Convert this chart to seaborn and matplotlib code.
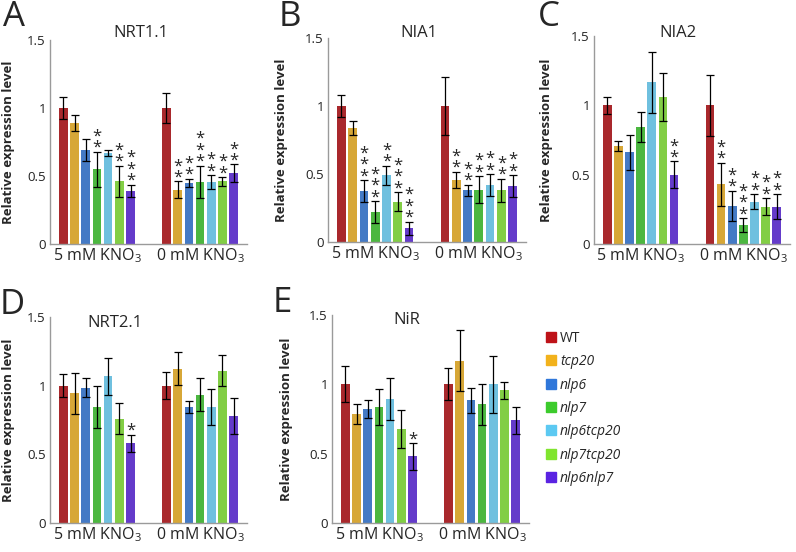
import numpy as np
import pandas as pd
import matplotlib
matplotlib.use("Agg")
import matplotlib.pyplot as plt
from matplotlib.lines import Line2D
import seaborn as sns

# Genotypes, conditions and colours
genotypes = ["WT", "tcp20", "nlp6", "nlp7", "nlp6tcp20", "nlp7tcp20", "nlp6nlp7"]
conditions = ["5 mM KNO$_3$", "0 mM KNO$_3$"]
bar_colors = ["#BE1218", "#F2B21C", "#2F77DA", "#3CCB2C", "#5CC9F2", "#80E52E", "#5A23E2"]

# NRT1.1
nrt11_5mm = [1.00, 0.89, 0.69, 0.55, 0.67, 0.46, 0.39]
nrt11_5mm_err = [0.08, 0.06, 0.08, 0.13, 0.02, 0.115, 0.045]
nrt11_0mm = [1.00, 0.40, 0.45, 0.455, 0.455, 0.46, 0.52]
nrt11_0mm_err = [0.11, 0.06, 0.03, 0.12, 0.05, 0.03, 0.065]
nrt11_stars_5mm = [0, 0, 0, 2, 0, 2, 3]
nrt11_stars_0mm = [0, 2, 2, 3, 2, 2, 2]

# NIA1
nia1_5mm = [1.00, 0.84, 0.375, 0.22, 0.49, 0.295, 0.10]
nia1_5mm_err = [0.08, 0.05, 0.08, 0.08, 0.07, 0.07, 0.05]
nia1_0mm = [1.00, 0.455, 0.38, 0.385, 0.42, 0.38, 0.41]
nia1_0mm_err = [0.21, 0.06, 0.04, 0.10, 0.08, 0.085, 0.08]
nia1_stars_5mm = [0, 0, 3, 3, 2, 3, 3]
nia1_stars_0mm = [0, 2, 2, 2, 2, 2, 2]

# NIA2
nia2_5mm = [1.00, 0.705, 0.66, 0.845, 1.165, 1.06, 0.50]
nia2_5mm_err = [0.06, 0.035, 0.125, 0.11, 0.22, 0.17, 0.095]
nia2_0mm = [1.00, 0.43, 0.275, 0.135, 0.305, 0.27, 0.27]
nia2_0mm_err = [0.22, 0.155, 0.11, 0.05, 0.055, 0.06, 0.09]
nia2_stars_5mm = [0, 0, 0, 0, 0, 0, 2]
nia2_stars_0mm = [0, 2, 2, 3, 2, 2, 2]

# NRT2.1
nrt21_5mm = [1.00, 0.945, 0.985, 0.845, 1.07, 0.76, 0.58]
nrt21_5mm_err = [0.085, 0.15, 0.07, 0.155, 0.135, 0.115, 0.063]
nrt21_0mm = [1.00, 1.125, 0.845, 0.935, 0.845, 1.11, 0.78]
nrt21_0mm_err = [0.10, 0.12, 0.045, 0.12, 0.13, 0.115, 0.13]
nrt21_stars_5mm = [0, 0, 0, 0, 0, 0, 1]
nrt21_stars_0mm = [0, 0, 0, 0, 0, 0, 0]

# NiR
nir_5mm = [1.00, 0.785, 0.82, 0.835, 0.895, 0.68, 0.48]
nir_5mm_err = [0.13, 0.07, 0.065, 0.13, 0.15, 0.137, 0.095]
nir_0mm = [1.00, 1.17, 0.885, 0.855, 1.00, 0.957, 0.74]
nir_0mm_err = [0.115, 0.22, 0.09, 0.15, 0.205, 0.06, 0.095]
nir_stars_5mm = [0, 0, 0, 0, 0, 0, 1]
nir_stars_0mm = [0, 0, 0, 0, 0, 0, 0]

sns.set_style("white")
plt.rcParams["font.family"] = ["Open Sans", "DejaVu Sans"]
plt.rcParams["mathtext.fontset"] = "custom"
plt.rcParams["mathtext.rm"] = "Open Sans"
plt.rcParams["mathtext.it"] = "Open Sans:italic"


def draw_panel(ax, letter, gene, vals5, err5, vals0, err0, stars5, stars0, title_xy, letter_xy, ylabel_x):
    df = pd.DataFrame({
        "condition": [conditions[0]] * 7 + [conditions[1]] * 7,
        "genotype": genotypes * 2,
        "value": vals5 + vals0,
        "err": err5 + err0,
        "stars": stars5 + stars0,
    })
    sns.barplot(data=df, x="condition", y="value", hue="genotype", order=conditions,
                hue_order=genotypes, palette=bar_colors, width=0.76, gap=0.22,
                errorbar=None, legend=False, linewidth=0, ax=ax)

    # bars sorted left to right match the frame's row order
    bars = sorted(ax.patches, key=lambda p: p.get_x())
    for bar, (_, row) in zip(bars, df.iterrows()):
        xc = bar.get_x() + bar.get_width() / 2
        ax.errorbar(xc, row["value"], yerr=row["err"], fmt="none", ecolor="black",
                    elinewidth=0.9, capsize=2.6, capthick=0.9)
        n = int(row["stars"])
        if n:
            # one stacked text per bar, one star per line
            ax.annotate("\n".join(["*"] * n), (xc, row["value"] + row["err"]),
                        xytext=(0, -3), textcoords="offset points", ha="center",
                        va="bottom", fontsize=12, linespacing=0.62)

    ax.set_ylim(0, 1.5)
    ax.set_yticks([0, 0.5, 1, 1.5])
    ax.set_yticklabels(["0", "0.5", "1", "1.5"], fontsize=9.5, color="#222222")
    ax.tick_params(axis="x", length=0, labelsize=11.5, pad=2)
    ax.tick_params(axis="y", length=0, pad=3)
    ax.set_xlabel("")
    ax.set_ylabel("Relative expression level", fontsize=9.5, fontweight="bold")
    ax.yaxis.set_label_coords(ylabel_x, 0.5)
    sns.despine(ax=ax)
    for side in ["left", "bottom"]:
        ax.spines[side].set_color("#9A9A9A")
        ax.spines[side].set_linewidth(1)
    ax.text(title_xy[0], title_xy[1], gene, transform=ax.transAxes, ha="center", va="center",
            fontsize=12)
    ax.figure.text(letter_xy[0], letter_xy[1], letter, ha="center", va="center", fontsize=25)


fig = plt.figure(figsize=(7.96, 5.52), dpi=100)
W, H = 796, 552


def add_axes(left, right, top, bottom):
    return fig.add_axes([left / W, 1 - bottom / H, (right - left) / W, (bottom - top) / H])


ax_a = add_axes(50, 247, 40, 244)
ax_b = add_axes(328, 526, 38, 242)
ax_c = add_axes(594, 790, 36, 244)
ax_d = add_axes(50, 247, 317, 523)
ax_e = add_axes(332, 529, 315, 523)

draw_panel(ax_a, "A", "NRT1.1", nrt11_5mm, nrt11_5mm_err, nrt11_0mm, nrt11_0mm_err,
           nrt11_stars_5mm, nrt11_stars_0mm, (0.46, 1.035), (14 / W, 1 - 17 / H), -0.18)
draw_panel(ax_b, "B", "NIA1", nia1_5mm, nia1_5mm_err, nia1_0mm, nia1_0mm_err,
           nia1_stars_5mm, nia1_stars_0mm, (0.46, 1.025), (290 / W, 1 - 17 / H), -0.20)
draw_panel(ax_c, "C", "NIA2", nia2_5mm, nia2_5mm_err, nia2_0mm, nia2_0mm_err,
           nia2_stars_5mm, nia2_stars_0mm, (0.43, 1.014), (549 / W, 1 - 17 / H), -0.21)
draw_panel(ax_d, "D", "NRT2.1", nrt21_5mm, nrt21_5mm_err, nrt21_0mm, nrt21_0mm_err,
           nrt21_stars_5mm, nrt21_stars_0mm, (0.33, 0.97), (12 / W, 1 - 305 / H), -0.18)
draw_panel(ax_e, "E", "NiR", nir_5mm, nir_5mm_err, nir_0mm, nir_0mm_err,
           nir_stars_5mm, nir_stars_0mm, (0.38, 0.976), (282 / W, 1 - 303 / H), -0.20)

handles = [Line2D([], [], marker="s", linestyle="none", markersize=6.5, markerfacecolor=c,
                  markeredgecolor=c) for c in bar_colors]
leg = fig.legend(handles, genotypes, loc="upper left", bbox_to_anchor=(546 / W, 1 - 331 / H),
                 frameon=False, fontsize=10, handlelength=0.7, handletextpad=0.3,
                 labelspacing=0.6, borderpad=0, borderaxespad=0)
for t in leg.get_texts()[1:]:
    t.set_style("italic")

fig.savefig("out.png", dpi=100)
